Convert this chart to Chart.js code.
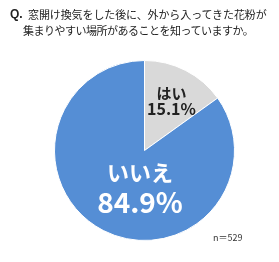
<!DOCTYPE html>
<html><head><meta charset="utf-8">
<script src="https://cdn.jsdelivr.net/npm/chart.js@4"></script>
<style>
html,body{margin:0;padding:0;background:#fff;}
#wrap{position:relative;width:279px;height:262px;overflow:hidden;font-family:"Noto Sans CJK JP","Noto Sans",sans-serif;color:#222;}
#c{position:absolute;left:0;top:0;}
.t{position:absolute;white-space:nowrap;}
</style></head><body>
<div id="wrap">
<canvas id="c" width="279" height="262"></canvas>
<div class="t" style="left:10px;top:6px;font:bold 12px 'Liberation Sans',sans-serif;line-height:16px;">Q.</div>
<div class="t" id="l1" style="left:28px;top:6px;font-size:11px;line-height:16px;letter-spacing:-0.1px;"></div>
<div class="t" id="l2" style="left:23px;top:22px;font-size:11px;line-height:16px;letter-spacing:-0.5px;"></div>
<div class="t" id="n" style="left:213px;top:232px;font-size:9px;line-height:12px;color:#333;"></div>
</div>
<script>
const titleLines = ['窓開け換気をした後に、外から入ってきた花粉が', '集まりやすい場所があることを知っていますか。'];
const categories = ['はい', 'いいえ'];
const values = [15.1, 84.9];
const sampleNote = 'n＝529';
const colors = ['#D9D9D9', '#558ED5'];

document.getElementById('l1').textContent = titleLines[0];
document.getElementById('l2').textContent = titleLines[1];
document.getElementById('n').textContent = sampleNote;

const labelStyle = [
  {dx: 0.3, dy: -0.55, color: '#222', f1: 'bold 15px "Noto Sans CJK JP"', f2: 'bold 16px "Noto Sans CJK JP"', gap: 16},
  {dx: -0.05, dy: 0.41, color: '#fff', f1: 'bold 22px "Noto Sans CJK JP"', f2: 'bold 28px "Noto Sans CJK JP"', gap: 29}
];
const labelPlugin = {
  id: 'lbl',
  afterDatasetsDraw(chart) {
    const ctx = chart.ctx;
    const meta = chart.getDatasetMeta(0);
    meta.data.forEach((arc, i) => {
      const r = arc.outerRadius, s = labelStyle[i];
      const x = arc.x + s.dx * r, y = arc.y + s.dy * r;
      ctx.save();
      ctx.fillStyle = s.color;
      ctx.textAlign = 'center';
      ctx.textBaseline = 'middle';
      ctx.font = s.f1;
      ctx.fillText(categories[i], x, y - s.gap / 2);
      ctx.font = s.f2;
      ctx.fillText(values[i].toFixed(1) + '%', x, y + s.gap / 2);
      ctx.restore();
    });
  }
};

new Chart(document.getElementById('c'), {
  type: 'pie',
  data: {labels: categories, datasets: [{data: values, backgroundColor: colors, borderColor: '#fff', borderWidth: 1}]},
  options: {
    responsive: false, animation: false,
    layout: {padding: {left: 54, right: 44, top: 60, bottom: 21}},
    plugins: {legend: {display: false}, tooltip: {enabled: false}}
  },
  plugins: [labelPlugin]
});
</script>
</body></html>
